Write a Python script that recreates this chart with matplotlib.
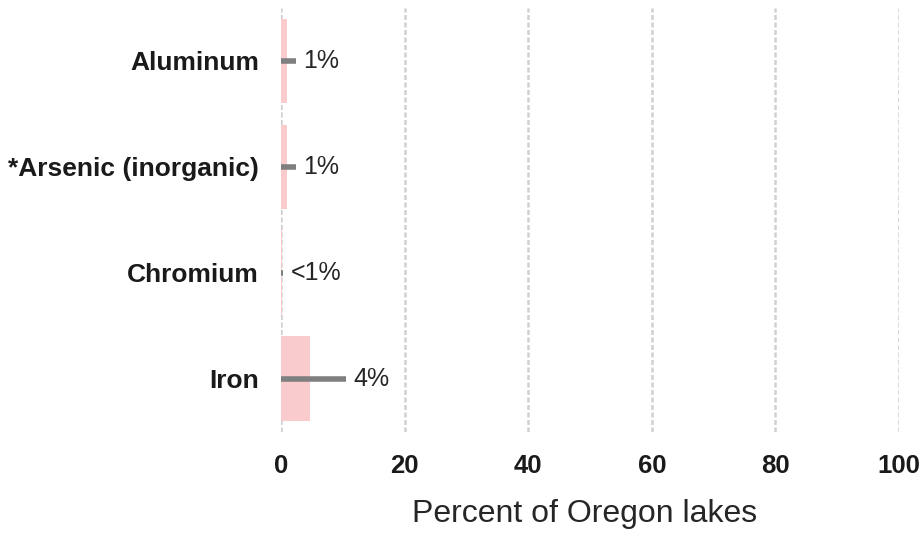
import numpy as np
import matplotlib.pyplot as plt

plt.rcParams['font.family'] = ['Liberation Sans', 'DejaVu Sans']

# Data
metals = ["Aluminum", "*Arsenic (inorganic)", "Chromium", "Iron"]
percent = [1.0, 1.0, 0.15, 4.6]
upper = [2.4, 2.4, 0.35, 10.5]
labels = ["1%", "1%", "<1%", "4%"]


def main():
    fig = plt.figure(figsize=(9.19, 5.35), dpi=100)
    ax = fig.add_axes([0.306, 0.193, 0.672, 0.792])

    y = np.arange(len(metals))
    ax.barh(y, percent, height=0.8, color='#f9cbcd', zorder=2)

    # error lines run from 0 up to the upper bound
    lower_err = np.array(percent)
    upper_err = np.array(upper) - np.array(percent)
    ax.errorbar(percent, y, xerr=[lower_err, upper_err], fmt='none',
                ecolor='#7f7f7f', elinewidth=4, capsize=0, zorder=3)

    for yi, up, lab in zip(y, upper, labels):
        ax.annotate(lab, (up, yi), xytext=(5, 0), textcoords='offset points',
                    va='center', ha='left', fontsize=18, color='#262626')

    ax.set_xlim(0, 100)
    ax.set_ylim(len(metals) - 0.5, -0.5)
    ax.set_xticks([0, 20, 40, 60, 80, 100])
    ax.set_yticks(y)
    ax.set_yticklabels(metals, fontsize=19, fontweight='bold', color='#1a1a1a')
    for t in ax.get_xticklabels():
        t.set_fontsize(18.5)
        t.set_fontweight('bold')
        t.set_color('#1a1a1a')
    ax.tick_params(axis='both', length=0)
    ax.tick_params(axis='x', pad=16)
    ax.tick_params(axis='y', pad=16)

    ax.grid(axis='x', color='#d0d0d0', linestyle=(0, (2, 1)), linewidth=1.8, zorder=0)
    ax.set_axisbelow(True)
    for s in ax.spines.values():
        s.set_visible(False)

    ax.set_xlabel("Percent of Oregon lakes", fontsize=23, color='#262626')
    ax.xaxis.set_label_coords(0.491, -0.158)

    fig.savefig("out.png", dpi=100)


if __name__ == "__main__":
    main()
